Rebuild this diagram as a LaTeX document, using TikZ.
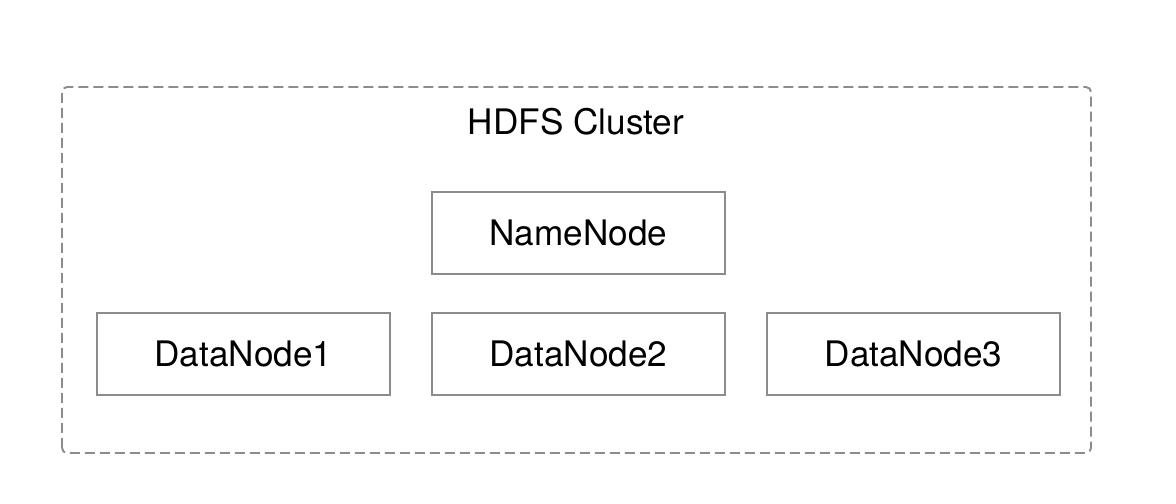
\documentclass[tikz,border=0pt]{standalone}
\usepackage{fontspec}
\setmainfont{TeX Gyre Heros}
\usepackage{tikz}
\definecolor{rahmen}{RGB}{140,140,140}
\tikzset{knoten/.style={draw=rahmen,line width=1.1pt,minimum width=5.86cm,minimum height=1.64cm,inner sep=0pt,font=\fontsize{20}{24}\selectfont}}

\begin{document}
\begin{tikzpicture}
\useasboundingbox (0,0) rectangle (23.52,10.08);
\draw [rahmen,line width=1.1pt,dash pattern=on 0.2cm off 0.1cm,rounded corners=0.1cm] (1.24,1.02) rectangle (21.82,8.34);
\node (titel) at (11.52,7.64) {\fontsize{20}{24}\selectfont HDFS Cluster};

\node [knoten] (nn) at (11.57,5.42) {NameNode};
\node [knoten] (dn1) at (4.87,3) {DataNode1};
\node [knoten] (dn2) at (11.57,3) {DataNode2};
\node [knoten] (dn3) at (18.27,3) {DataNode3};
\end{tikzpicture}
\end{document}
